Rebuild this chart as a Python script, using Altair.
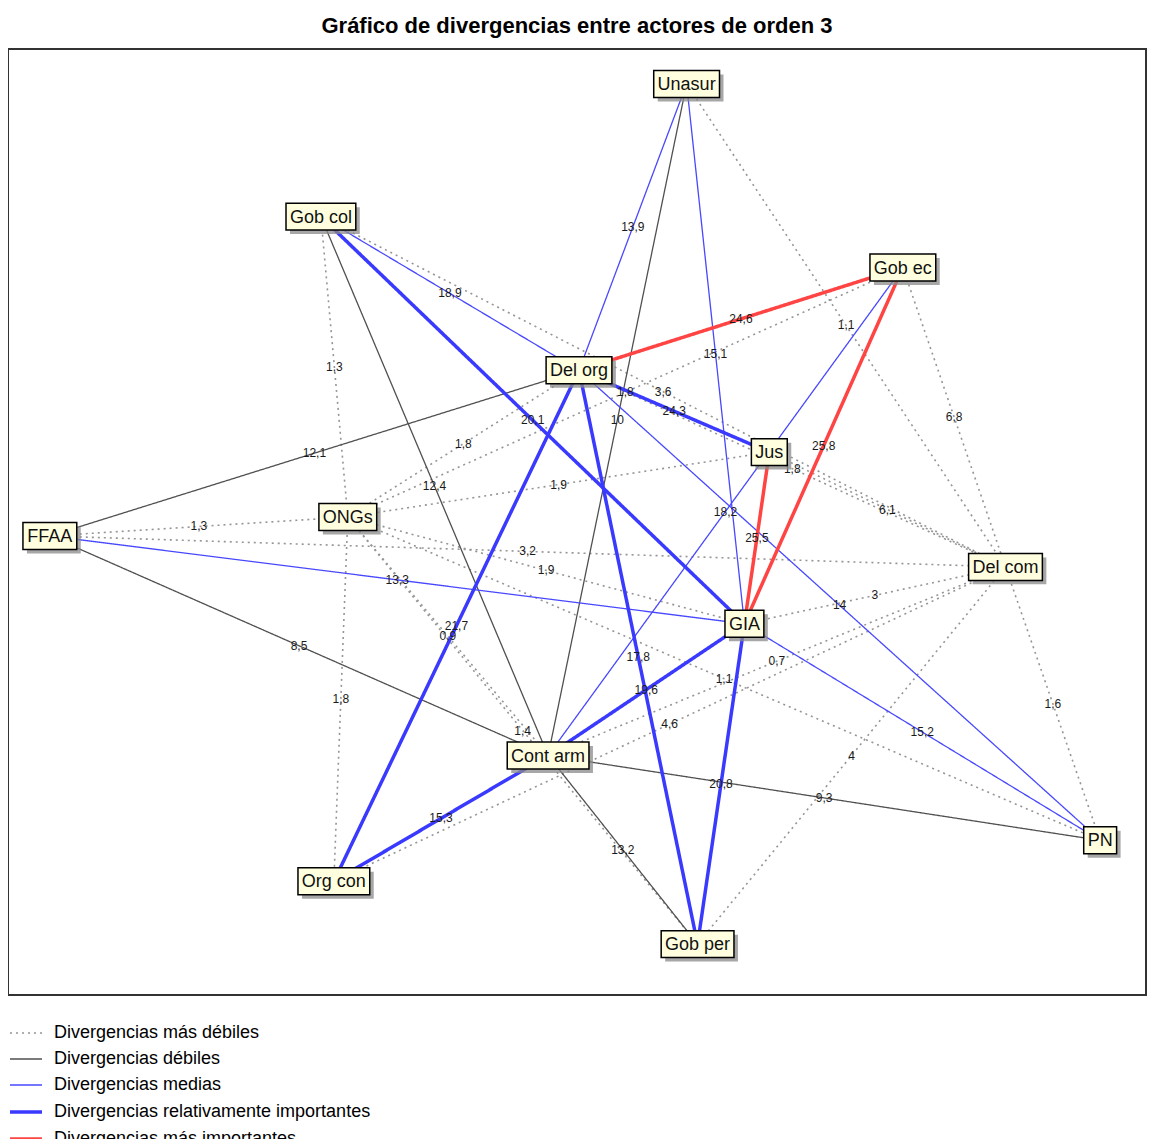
import altair as alt
import pandas as pd

# ---- data -------------------------------------------------------------
nodes = ["Unasur", "Gob col", "Gob ec", "Del org", "Jus", "FFAA", "ONGs",
         "Del com", "GIA", "Cont arm", "PN", "Org con", "Gob per"]
# layout coordinates of each actor (map plane, y grows downward)
node_x = [681, 314, 898, 573, 764, 42, 341, 1001, 739, 542, 1096, 327, 692]
node_y = [35, 168, 219, 322, 404, 488, 469, 519, 576, 708, 793, 834, 897]

categories = ["Divergencias más débiles", "Divergencias débiles",
              "Divergencias medias", "Divergencias relativamente importantes",
              "Divergencias más importantes"]

edge_src = ["Unasur", "Gob col", "Gob ec", "Gob col", "Del org", "ONGs", "Del org",
            "Gob ec", "Jus", "FFAA", "FFAA", "ONGs", "GIA", "ONGs", "ONGs",
            "Cont arm", "Del com", "ONGs", "ONGs", "Org con", "Del com",
            "Gob col", "Unasur", "FFAA", "FFAA", "Cont arm", "Cont arm",
            "Unasur", "Unasur", "Gob col", "FFAA", "Del org", "Gob ec", "GIA",
            "Gob col", "Del org", "Del org", "Del org", "GIA", "GIA", "Org con",
            "Del org", "Gob ec", "Jus"]
edge_dst = ["Del com", "ONGs", "ONGs", "Del com", "ONGs", "Jus", "Del com",
            "Del com", "Del com", "ONGs", "Del com", "GIA", "Del com", "Cont arm", "PN",
            "Del com", "PN", "Org con", "Gob per", "Del com", "Gob per",
            "Cont arm", "Cont arm", "Del org", "Cont arm", "PN", "Gob per",
            "Del org", "GIA", "Del org", "GIA", "PN", "Cont arm", "PN",
            "GIA", "Jus", "Org con", "Gob per", "Gob per", "Cont arm", "Cont arm",
            "Gob ec", "GIA", "GIA"]
edge_cat = [0] * 21 + [1] * 6 + [2] * 7 + [3] * 7 + [4] * 3
edge_val = ["1,1", "1,3", "1,8", "3,6", "1,8", "1,9", "1,8",
            "6,8", "6,1", "1,3", "3,2", "1,9", "3", "0,9", "1,1",
            "0,7", "1,6", "1,8", "1,4", "4,6", "4",
            "12,4", "10", "12,1", "8,5", "9,3", "13,2",
            "13,9", "15,1", "18,9", "13,3", "14", "18,2", "15,2",
            "20,1", "24,3", "21,7", "17,8", "20,8", "19,6", "15,3",
            "24,6", "25,8", "25,5"]

# ---- derived tables ---------------------------------------------------
pos = {n: (x, y) for n, x, y in zip(nodes, node_x, node_y)}
edges = pd.DataFrame({
    "src": edge_src, "dst": edge_dst,
    "cat": [categories[c] for c in edge_cat], "order": edge_cat, "val": edge_val,
})
edges["x"] = [pos[s][0] for s in edge_src]
edges["y"] = [pos[s][1] for s in edge_src]
edges["x2"] = [pos[d][0] for d in edge_dst]
edges["y2"] = [pos[d][1] for d in edge_dst]
edges["mx"] = (edges["x"] + edges["x2"]) / 2
edges["my"] = (edges["y"] + edges["y2"]) / 2
edges = edges.sort_values("order", kind="stable").reset_index(drop=True)

ARIAL = {'D': 722, 'e': 556, 'l': 222, ' ': 278, 'c': 500, 'o': 556, 'm': 833,
         'G': 778, 'b': 556, 'r': 333, 'g': 556, 'J': 500, 'u': 556, 's': 500,
         'F': 611, 'A': 667, 'O': 778, 'N': 722, 'I': 278, 'C': 722, 't': 278,
         'a': 556, 'n': 556, 'P': 667, 'U': 722, 'p': 556}
NODE_FS = 18


def text_width(s):
    return sum(ARIAL.get(ch, 556) for ch in s) * NODE_FS / 1000


nd = pd.DataFrame({"name": nodes, "x": node_x, "y": node_y})
nd["hw"] = [text_width(n) / 2 + 4 for n in nodes]
nd["x0"] = nd["x"] - nd["hw"]
nd["x1"] = nd["x"] + nd["hw"]
nd["y0"] = nd["y"] - 13.5
nd["y1"] = nd["y"] + 13.5
nd["sx0"] = nd["x0"] + 4
nd["sx1"] = nd["x1"] + 4
nd["sy0"] = nd["y0"] + 4
nd["sy1"] = nd["y1"] + 4

DX, DY = 1142, 948          # extent of the layout plane
W, H = 1138, 946            # plot area in pixels
FONT = "Liberation Sans, Arial, sans-serif"

xs = alt.Scale(domain=[0, DX], nice=False, zero=False)
ys = alt.Scale(domain=[0, DY], nice=False, zero=False, reverse=True)

legend = alt.Legend(title=None, orient="none", legendX=0, legendY=967,
                    direction="vertical", labelFont=FONT, labelFontSize=18,
                    labelColor="#000", symbolType="stroke", symbolSize=1024,
                    labelOffset=10, rowPadding=0, labelLimit=600)

lines = alt.Chart(edges).mark_rule().encode(
    x=alt.X("x:Q", scale=xs, axis=None),
    y=alt.Y("y:Q", scale=ys, axis=None),
    x2="x2:Q", y2="y2:Q",
    color=alt.Color("cat:O", sort=categories, legend=legend,
                    scale=alt.Scale(type="ordinal", domain=categories,
                                    range=["#959595", "#505050", "#4848ff", "#3a3aff", "#ff4444"])),
    strokeDash=alt.StrokeDash("cat:O", sort=categories, legend=legend,
                              scale=alt.Scale(type="ordinal", domain=categories,
                                              range=[[2, 4], [1, 0], [1, 0], [1, 0], [1, 0]])),
    strokeWidth=alt.StrokeWidth("cat:O", sort=categories, legend=legend,
                                scale=alt.Scale(type="ordinal", domain=categories,
                                                range=[1.6, 1.3, 1.3, 3.5, 3.5])),
)

labels = alt.Chart(edges).mark_text(font=FONT, fontSize=12, color="#1a1a1a").encode(
    x=alt.X("mx:Q", scale=xs, axis=None),
    y=alt.Y("my:Q", scale=ys, axis=None),
    text="val:N",
)

shadows = alt.Chart(nd).mark_rect(fill="#8a8a8a", opacity=0.75).encode(
    x=alt.X("sx0:Q", scale=xs, axis=None), x2="sx1:Q",
    y=alt.Y("sy0:Q", scale=ys, axis=None), y2="sy1:Q",
)

boxes = alt.Chart(nd).mark_rect(fill="#ffffe0", stroke="#000", strokeWidth=1.5).encode(
    x=alt.X("x0:Q", scale=xs, axis=None), x2="x1:Q",
    y=alt.Y("y0:Q", scale=ys, axis=None), y2="y1:Q",
)

names = alt.Chart(nd).mark_text(font=FONT, fontSize=NODE_FS, color="#111",
                                baseline="middle", dy=1).encode(
    x=alt.X("x:Q", scale=xs, axis=None),
    y=alt.Y("y:Q", scale=ys, axis=None),
    text="name:N",
)

chart = alt.layer(lines, labels, shadows, boxes, names).properties(
    width=W, height=H,
    title=alt.TitleParams("Gráfico de divergencias entre actores de orden 3",
                          font=FONT, fontSize=22, fontWeight="bold", color="#000",
                          anchor="middle", offset=11),
    autosize=alt.AutoSizeParams(type="none"),
    padding={"left": 0, "top": 41, "right": 2, "bottom": 144},
).configure_view(stroke="#333", strokeWidth=2)

chart.save("out.html", embed_options={"renderer": "svg", "actions": False})
